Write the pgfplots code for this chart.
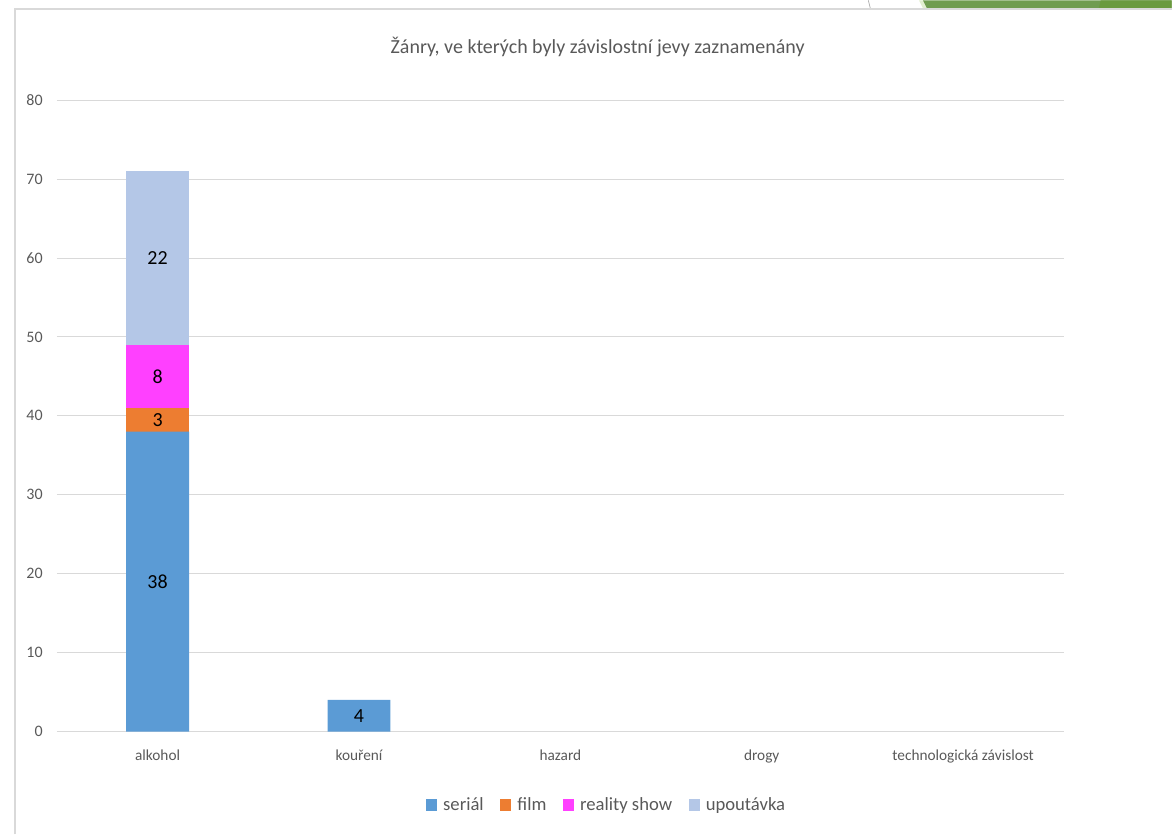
\documentclass[border=0pt]{standalone}
\usepackage{pgfplots}
\pgfplotsset{compat=1.18}
\usepackage{pgfplotstable}
\usepackage{fontspec}
\setmainfont{Carlito}
\definecolor{cSer}{RGB}{91,155,213}
\definecolor{cFilm}{RGB}{237,125,49}
\definecolor{cReal}{RGB}{255,64,255}
\definecolor{cUpo}{RGB}{180,199,231}
\definecolor{labelgray}{RGB}{89,89,89}
\definecolor{gridgray}{RGB}{217,217,217}
\definecolor{frame}{RGB}{217,217,217}
\definecolor{greenA}{RGB}{112,156,80}
\definecolor{greenB}{RGB}{106,154,62}
\definecolor{greenL}{RGB}{226,238,208}
\pgfplotstableread{
x s f r u
0 38 3 8 22
1 4 0 0 0
2 0 0 0 0
3 0 0 0 0
4 0 0 0 0
}\datatable
\begin{document}
\begin{tikzpicture}
\path (0,0) rectangle (879.75pt,626.25pt);
% decorative top-right
\fill[greenL] (690pt,626.25pt) -- (693pt,620.25pt) -- (697pt,620.25pt) -- (694pt,626.25pt) -- cycle;
\fill[greenA] (693pt,626.25pt) -- (696pt,620.25pt) -- (879.75pt,620.25pt) -- (879.75pt,626.25pt) -- cycle;
\fill[greenB] (826.5pt,626.25pt) -- (825pt,620.25pt) -- (879.75pt,620.25pt) -- (879.75pt,626.25pt) -- cycle;
\draw[gray!70, line width=0.5pt] (652pt,626.25pt) .. controls (652.5pt,623pt) .. (653.5pt,620.25pt);
% frame
\draw[frame, line width=1.5pt] (11.25pt,0pt) -- (11.25pt,619.5pt) -- (880pt,619.5pt);
\begin{axis}[
  at={(42.75pt,77.25pt)}, anchor=south west,
  scale only axis, width=756pt, height=474pt,
  ybar stacked, bar width=47.25pt,
  xmin=-0.5, xmax=4.5, ymin=0, ymax=80,
  ytick={0,10,...,80},
  xtick={0,1,2,3,4},
  xticklabels={alkohol,kouření,hazard,drogy,technologická závislost},
  ymajorgrids, grid style={gridgray, line width=0.75pt},
  axis line style={draw=none},
  major tick length=0pt,
  tick style={draw=none},
  /pgf/number format/assume math mode=true,
  yticklabel style={inner sep=0pt, anchor=east, xshift=-10.5pt, font=\fontsize{12}{14}\selectfont, text=labelgray},
  xticklabel style={inner sep=0pt, anchor=center, yshift=-18.75pt, text height=1.5ex, text depth=.25ex, font=\fontsize{11.5}{13}\selectfont, text=labelgray},
  title={Žánry, ve kterých byly závislostní jevy zaznamenány},
  title style={at={(0.537,1.071)}, anchor=center, font=\fontsize{15}{18}\selectfont, text=labelgray},
  legend columns=4,
  legend style={at={(0.546,-0.117)}, anchor=center, draw=none, fill=none, font=\fontsize{14}{16}\selectfont, text=labelgray,
    /tikz/every odd column/.append style={column sep=3pt},
    /tikz/every even column/.append style={column sep=11pt}, inner sep=0pt,
    nodes={inner sep=1.5pt}},
  legend image code/.code={\fill[#1] (0pt,-4.5pt) rectangle (8.25pt,4.5pt);},
  point meta=explicit,
  nodes near coords={\ifdim\myval pt>0pt \pgfmathprintnumber{\myval}\fi},
  nodes near coords style={anchor=center, font=\fontsize{15}{17}\selectfont, text=black},
  clip=false,
]
\addplot[fill=cSer, draw=none, visualization depends on={\thisrow{s}\as\myval}] table[x=x,y=s,meta=s]{\datatable};
\addplot[fill=cFilm, draw=none, visualization depends on={\thisrow{f}\as\myval}] table[x=x,y=f,meta=f]{\datatable};
\addplot[fill=cReal, draw=none, visualization depends on={\thisrow{r}\as\myval}] table[x=x,y=r,meta=r]{\datatable};
\addplot[fill=cUpo, draw=none, visualization depends on={\thisrow{u}\as\myval}] table[x=x,y=u,meta=u]{\datatable};
\legend{seriál,film,reality show,upoutávka}
\end{axis}
\end{tikzpicture}
\end{document}
